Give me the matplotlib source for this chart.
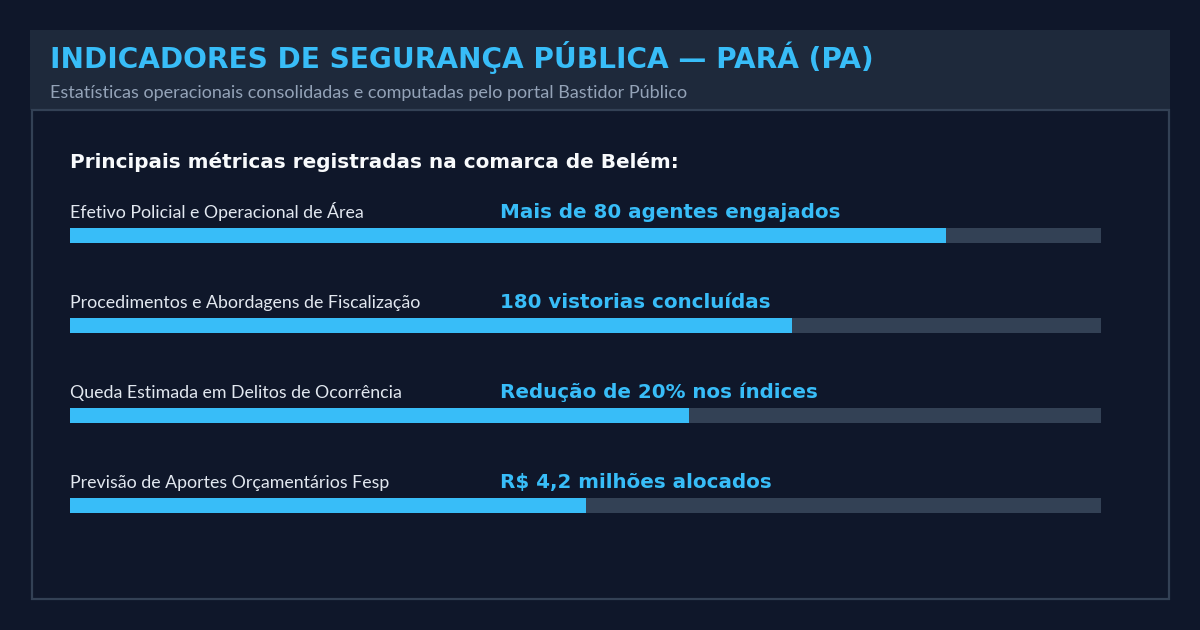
import matplotlib.pyplot as plt
from matplotlib.patches import Rectangle

TITLE = "INDICADORES DE SEGURANÇA PÚBLICA — PARÁ (PA)"
SUBTITLE = "Estatísticas operacionais consolidadas e computadas pelo portal Bastidor Público"
HEADING = "Principais métricas registradas na comarca de Belém:"

labels = [
    "Efetivo Policial e Operacional de Área",
    "Procedimentos e Abordagens de Fiscalização",
    "Queda Estimada em Delitos de Ocorrência",
    "Previsão de Aportes Orçamentários Fesp",
]
value_texts = [
    "Mais de 80 agentes engajados",
    "180 vistorias concluídas",
    "Redução de 20% nos índices",
    "R$ 4,2 milhões alocados",
]
progress = [85, 70, 60, 50]

BG = "#0f172a"
PANEL = "#1e293b"
BORDER = "#334155"
ACCENT = "#38bdf8"
TRACK = "#334155"

W, H = 1200, 630
fig = plt.figure(figsize=(W / 100, H / 100), dpi=100, facecolor=BG)

# background layer in pixel coordinates
bg = fig.add_axes([0, 0, 1, 1])
bg.set_xlim(0, W)
bg.set_ylim(H, 0)
bg.axis("off")
bg.add_patch(Rectangle((30, 30), 1140, 80, color=PANEL, lw=0))
bg.add_patch(Rectangle((32, 110), 1137, 489, fill=False, ec=BORDER, lw=1.6))

bg.text(50, 68, TITLE, color=ACCENT, fontsize=20.2, fontweight="bold",
        family="DejaVu Sans", va="baseline")
bg.text(50, 98, SUBTITLE, color="#94a3b8", fontsize=13, family="Lato",
        va="baseline")
bg.text(70, 168, HEADING, color="#f8fafc", fontsize=14.38, fontweight="bold",
        family="DejaVu Sans", va="baseline")

# progress bars
left, right = 70, 1101
top, bottom = 190.5, 550.5
ax = fig.add_axes([left / W, 1 - bottom / H, (right - left) / W, (bottom - top) / H])
ax.set_xlim(0, 100)
ax.set_ylim(len(labels) - 0.5, -0.5)
ax.axis("off")

rows = list(range(len(labels)))
bar_h = 15 / 90
ax.barh(rows, [100] * len(rows), height=bar_h, color=TRACK, lw=0)
ax.barh(rows, progress, height=bar_h, color=ACCENT, lw=0)

value_x = (500 - left) / (right - left) * 100
for i, (lab, val) in enumerate(zip(labels, value_texts)):
    ax.text(0, i - 0.195, lab, color="#e2e8f0", fontsize=12.8, family="Lato",
            va="baseline")
    ax.text(value_x, i - 0.195, val, color=ACCENT, fontsize=14.3,
            fontweight="bold", family="DejaVu Sans", va="baseline")

fig.savefig("out.png", dpi=100, facecolor=BG)
